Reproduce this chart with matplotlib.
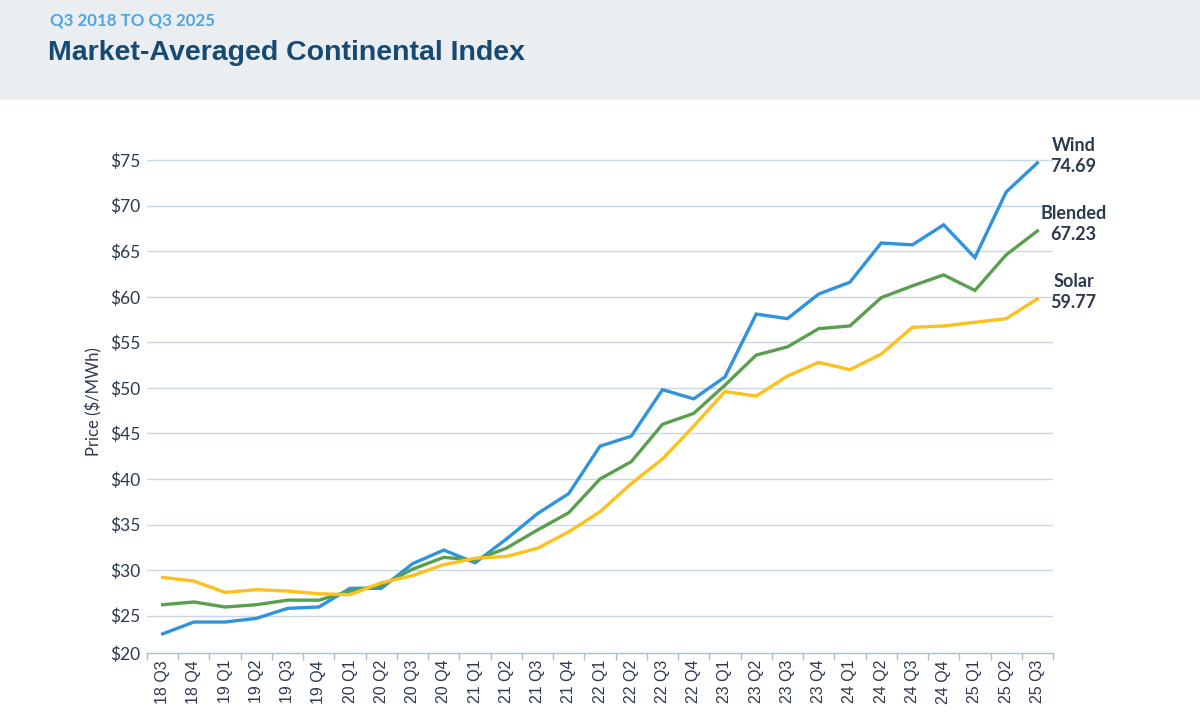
import matplotlib
matplotlib.use("Agg")
import matplotlib.pyplot as plt
from matplotlib.patches import Rectangle
from matplotlib.ticker import FixedLocator

# quarters, 18 Q3 .. 25 Q3
quarters = ["18 Q3", "18 Q4", "19 Q1", "19 Q2", "19 Q3", "19 Q4", "20 Q1", "20 Q2",
            "20 Q3", "20 Q4", "21 Q1", "21 Q2", "21 Q3", "21 Q4", "22 Q1", "22 Q2",
            "22 Q3", "22 Q4", "23 Q1", "23 Q2", "23 Q3", "23 Q4", "24 Q1", "24 Q2",
            "24 Q3", "24 Q4", "25 Q1", "25 Q2", "25 Q3"]

wind = [23.0, 24.3, 24.3, 24.7, 25.8, 25.95, 28.0, 28.0, 30.7, 32.2, 30.8, 33.4,
        36.2, 38.4, 43.6, 44.7, 49.8, 48.8, 51.2, 58.1, 57.6, 60.3, 61.6, 65.9,
        65.7, 67.9, 64.3, 71.5, 74.69]
blended = [26.2, 26.5, 25.95, 26.2, 26.7, 26.7, 27.7, 28.3, 30.1, 31.4, 31.1, 32.4,
           34.4, 36.3, 40.0, 41.9, 46.0, 47.2, 50.3, 53.6, 54.5, 56.5, 56.8, 59.9,
           61.2, 62.4, 60.7, 64.6, 67.23]
solar = [29.2, 28.8, 27.55, 27.85, 27.7, 27.4, 27.3, 28.6, 29.4, 30.6, 31.3, 31.5,
         32.4, 34.2, 36.4, 39.5, 42.2, 45.8, 49.6, 49.1, 51.3, 52.8, 52.0, 53.7,
         56.65, 56.8, 57.2, 57.6, 59.77]

series = [("Wind", wind, "#2f93dd"), ("Blended", blended, "#5a9f4e"), ("Solar", solar, "#fcc11c")]

yticks = [25, 30, 35, 40, 45, 50, 55, 60, 65, 70, 75]
ymin, ymax = 20.9, 76

text_dark = "#2c3a4d"
grid_col = "#cbd8e4"

fig = plt.figure(figsize=(12, 7.27), dpi=100)
fig.patch.set_facecolor("white")

# header band
fig.add_artist(Rectangle((0, 1 - 100 / 727), 1, 100 / 727, transform=fig.transFigure,
                         facecolor="#ebeef1", edgecolor="none", zorder=0))
fig.text(50 / 1200, 1 - 21 / 727, "Q3 2018 TO Q3 2025", fontsize=12.2, color="#4ea5e0",
         family="Lato", fontweight="bold", va="center", ha="left")
fig.text(48 / 1200, 1 - 53 / 727, "Market-Averaged Continental Index", fontsize=20.5,
         color="#174a72", family="Liberation Sans", fontweight="bold", va="center", ha="left")

ax = fig.add_axes([147 / 1200, 1 - 653 / 727, 906 / 1200, 502 / 727])
x = list(range(len(quarters)))

for name, vals, col in series:
    ax.plot(x, vals, color=col, lw=2.4, solid_joinstyle="miter", zorder=3)
    ax.annotate(f"{name}\n{vals[-1]:.2f}", xy=(x[-1], vals[-1]), xytext=(26, 5),
                textcoords="offset points", ha="center", va="center", fontsize=13,
                fontweight="bold", family="Lato", color=text_dark, linespacing=1.3,
                annotation_clip=False)

ax.set_xlim(-0.5, len(quarters) - 0.5)
ax.set_ylim(ymin, ymax)

ax.set_xticks(x)
ax.set_xticklabels(quarters, rotation=90, fontsize=11.5, color=text_dark,
                   family="Liberation Sans")
ax.tick_params(axis="x", which="major", length=0, pad=5)
ax.xaxis.set_minor_locator(FixedLocator([i - 0.5 for i in range(len(quarters) + 1)]))
ax.tick_params(axis="x", which="minor", length=5, color="#a8bdd0", width=1)

ax.set_yticks([ymin] + yticks)
ax.set_yticklabels(["$20"] + [f"${v}" for v in yticks], fontsize=12.5, color=text_dark,
                   family="Lato")
ax.tick_params(axis="y", length=0, pad=5)
for v in yticks:
    ax.axhline(v, color=grid_col, lw=1, zorder=1)

ax.set_ylabel("Price ($/MWh)", fontsize=12, color=text_dark, family="Lato", labelpad=5)

for s in ["top", "right", "left"]:
    ax.spines[s].set_visible(False)
ax.spines["bottom"].set_color("#a8bdd0")
ax.spines["bottom"].set_linewidth(1)

fig.savefig("out.png", dpi=100, facecolor="white")
